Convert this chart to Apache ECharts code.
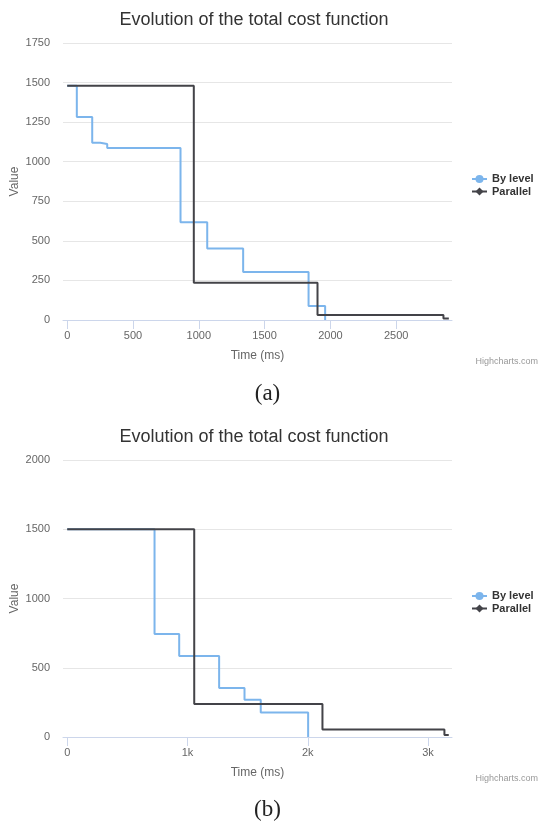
<!DOCTYPE html>
<html>
<head>
<meta charset="utf-8">
<script src="https://cdn.jsdelivr.net/npm/echarts@6/dist/echarts.min.js"></script>
<style>
html,body{margin:0;padding:0;background:#fff;}
#c{width:539px;height:821px;}
</style>
</head>
<body>
<div id="c"></div>
<script>
// ---- Data (chart a) ----
const seriesNames = ['By level', 'Parallel'];
const aByLevel = [[0,1480],[73,1282],[190,1120],[251,1112],[304,1086],[861,618],[1064,452],[1337,303],[1834,88],[1960,0],[1960,0]];
const aParallel = [[0,1480],[962,235],[1902,31],[2859,10],[2900,10]];
const aXTicks = [0,500,1000,1500,2000,2500];
const aYTicks = [0,250,500,750,1000,1250,1500,1750];
// ---- Data (chart b) ----
const bByLevel = [[0,1500],[726,743],[931,584],[1263,353],[1474,269],[1609,177],[2003,0],[2003,0]];
const bParallel = [[0,1500],[1056,238],[2122,55],[3136,14],[3172,14]];
const bXTicks = [0,1000,2000,3000];
const bYTicks = [0,500,1000,1500,2000];

const titleText = 'Evolution of the total cost function';
const yTitle = 'Value';
const colors = ['#7cb5ec', '#434348'];
const FONT = '"Liberation Sans", Arial, sans-serif';

function xAxisCfg(gridIndex, min, max, ticks, fmt) {
  return {
    type: 'value', gridIndex, min, max,
    name: 'Time (ms)', nameLocation: 'middle', nameGap: 30,
    nameTextStyle: {color: '#666', fontSize: 12, fontFamily: FONT},
    axisLine: {show: true, onZero: false, lineStyle: {color: '#ccd6eb', width: 1}},
    axisTick: {show: true, length: 9, customValues: ticks, lineStyle: {color: '#ccd6eb'}},
    axisLabel: {customValues: ticks, color: '#666', fontSize: 11, fontFamily: FONT, margin: 10, formatter: fmt},
    splitLine: {show: false}
  };
}
function yAxisCfg(gridIndex, ticks) {
  const iv = ticks[1] - ticks[0];
  return {
    type: 'value', gridIndex, min: 0, max: ticks[ticks.length - 1], interval: iv,
    axisLine: {show: false}, axisTick: {show: false},
    axisLabel: {color: '#666', fontSize: 11, fontFamily: FONT, margin: 13, formatter: v => String(v)},
    splitLine: {show: true, lineStyle: {color: '#e6e6e6', width: 1}}
  };
}
function lineSeries(name, data, idx, color, symbol) {
  return {
    name, type: 'line', data, xAxisIndex: idx, yAxisIndex: idx,
    step: 'end', showSymbol: false, symbol, symbolSize: 8,
    lineStyle: {color, width: 2}, itemStyle: {color},
    silent: true, animation: false
  };
}
function legendCfg(top) {
  return {
    orient: 'vertical', left: 471, top, itemWidth: 15, itemHeight: 10, itemGap: 0.5,
    padding: 0, data: seriesNames, selectedMode: false,
    textStyle: {color: '#333', fontSize: 11, fontWeight: 'bold', fontFamily: FONT, lineHeight: 12}
  };
}
function txt(text, x, y, size, color, align, family, rot) {
  return {type: 'text', x, y, silent: true, rotation: rot || 0,
    style: {text, fill: color, fontSize: size, fontFamily: family || FONT, textAlign: align, textVerticalAlign: 'middle'}};
}

const chart = echarts.init(document.getElementById('c'), null, {renderer: 'canvas'});
chart.setOption({
  animation: false,
  color: colors,
  grid: [
    {left: 63, width: 389, top: 43, height: 277, containLabel: false, outerBoundsMode: 'none'},
    {left: 63, width: 389, top: 460, height: 277, containLabel: false, outerBoundsMode: 'none'}
  ],
  xAxis: [
    xAxisCfg(0, -32, 2924, aXTicks, v => String(v)),
    xAxisCfg(1, -35, 3199, bXTicks, v => v === 0 ? '0' : (v / 1000) + 'k')
  ],
  yAxis: [yAxisCfg(0, aYTicks), yAxisCfg(1, bYTicks)],
  legend: [legendCfg(173), legendCfg(590)],
  series: [
    lineSeries('By level', aByLevel, 0, colors[0], 'circle'),
    lineSeries('Parallel', aParallel, 0, colors[1], 'diamond'),
    lineSeries('By level', bByLevel, 1, colors[0], 'circle'),
    lineSeries('Parallel', bParallel, 1, colors[1], 'diamond')
  ],
  graphic: [
    txt(titleText, 254, 20.5, 18, '#333', 'center'),
    txt(titleText, 254, 437, 18, '#333', 'center'),
    txt(yTitle, 15, 181.5, 12, '#666', 'center', null, Math.PI / 2),
    txt(yTitle, 15, 598.5, 12, '#666', 'center', null, Math.PI / 2),
    txt('Highcharts.com', 538, 362, 9, '#999', 'right'),
    txt('Highcharts.com', 538, 779, 9, '#999', 'right'),
    txt('(a)', 267.5, 394, 23, '#222', 'center', '"Liberation Serif", "DejaVu Serif", serif'),
    txt('(b)', 267.5, 810, 23, '#222', 'center', '"Liberation Serif", "DejaVu Serif", serif')
  ]
});
</script>
</body>
</html>
